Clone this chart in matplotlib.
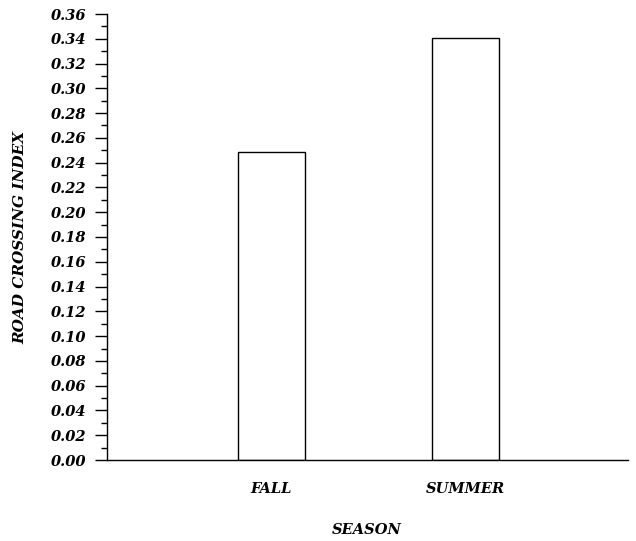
import matplotlib
matplotlib.use("Agg")
import matplotlib.pyplot as plt
from matplotlib.ticker import MultipleLocator, FormatStrFormatter

# road crossing index by season
seasons = ["FALL", "SUMMER"]
crossing_index = [0.249, 0.341]
positions = [1.0, 2.0]

plt.rcParams["font.family"] = ["DejaVu Serif"]

fig = plt.figure(figsize=(6.36, 5.41), dpi=100)
ax = fig.add_axes([107 / 636, 81 / 541, 521 / 636, 446 / 541])

ax.bar(positions, crossing_index, width=0.35, facecolor="white",
       edgecolor="black", linewidth=1.0)

ax.set_xlim(0.152, 2.838)
ax.set_ylim(0, 0.36)

ax.yaxis.set_major_locator(MultipleLocator(0.02))
ax.yaxis.set_minor_locator(MultipleLocator(0.01))
ax.yaxis.set_major_formatter(FormatStrFormatter("%.2f"))
ax.tick_params(axis="y", which="major", length=9, width=1.0, pad=6,
               labelsize=10.5)
ax.tick_params(axis="y", which="minor", length=4.5, width=1.0)
for lbl in ax.get_yticklabels():
    lbl.set_fontweight("bold")
    lbl.set_fontstyle("italic")

ax.set_xticks(positions)
ax.set_xticklabels(seasons, fontsize=10.5, fontweight="bold", fontstyle="italic")
ax.tick_params(axis="x", length=0, pad=21)
for lbl in ax.get_xticklabels():
    lbl.set_verticalalignment("center")

ax.spines["top"].set_visible(False)
ax.spines["right"].set_visible(False)
ax.spines["left"].set_linewidth(1.0)
ax.spines["bottom"].set_linewidth(1.0)

ax.set_xlabel("SEASON", fontsize=10.5, fontweight="bold", fontstyle="italic")
ax.xaxis.set_label_coords((367 - 107) / 521, -(530 - 460) / 446)
ax.xaxis.label.set_verticalalignment("center")
ax.set_ylabel("ROAD CROSSING INDEX", fontsize=11, fontweight="bold",
              fontstyle="italic")
ax.yaxis.set_label_coords(-(107 - 20) / 521, 0.5)
ax.yaxis.label.set_verticalalignment("center")

fig.savefig("out.png", dpi=100)
